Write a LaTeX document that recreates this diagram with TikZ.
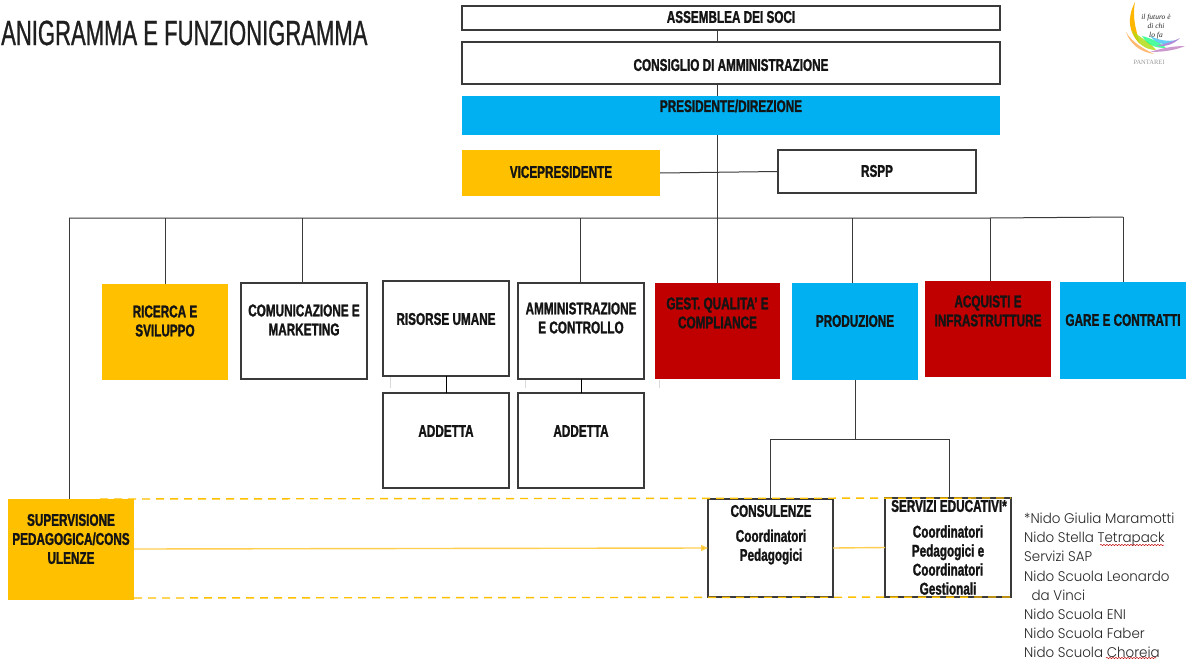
\documentclass[tikz,border=0pt]{standalone}
\usepackage{fontspec}
\setmainfont{Liberation Sans}[FakeStretch=0.69,BoldFeatures={FakeBold=1.4}]
\newfontfamily\listfont{Poppins Light}[FakeStretch=0.96]
\newfontfamily\titlefont{Liberation Sans}[FakeStretch=0.63,FakeBold=0.7]
\newfontfamily\logofont{Liberation Serif}
\usetikzlibrary{arrows.meta,decorations.pathmorphing}
\definecolor{cblue}{HTML}{00B0F0}
\definecolor{cgold}{HTML}{FFC000}
\definecolor{cred}{HTML}{C00000}
\definecolor{cline}{HTML}{3A3A3A}
\definecolor{cpale}{HTML}{FFCF50}
\tikzset{
  x=1pt,y=-1pt,
  boxshape/.style={line width=1.2pt,inner sep=0pt,outer sep=0pt},
  plainbox/.style={boxshape,draw=cline,fill=white},
  bluebox/.style={boxshape,fill=cblue},
  goldbox/.style={boxshape,fill=cgold},
  redbox/.style={boxshape,fill=cred},
  lbl/.style={font=\bfseries\fontsize{17}{19}\selectfont,align=center,text=black!92,inner sep=0pt},
  conn/.style={draw=cline,line width=1pt},
  dashgold/.style={draw=cgold,line width=1.4pt,dash pattern=on 8pt off 6pt},
  paleline/.style={draw=cpale,line width=1.4pt},
  listtext/.style={font=\listfont\fontsize{14}{19.1}\selectfont,align=left,anchor=north west,inner sep=0pt,text=black!85},
  wavy/.style={draw=red!75!black,line width=.5pt,decorate,decoration={snake,amplitude=.6pt,segment length=3pt}},
  tick/.style={draw=black!15,line width=.8pt}
}
\newcommand{\bx}[8]{% name x1 y1 x2 y2 style ytext text
  \node[#6,minimum width={(#4)*1pt-(#2)*1pt},minimum height={(#5)*1pt-(#3)*1pt},anchor=north west] (#1) at (#2,#3) {};
  \node[lbl] (#1-t) at ({(#2+#4)/2},#7) {#8};
}
\begin{document}
\begin{tikzpicture}
\useasboundingbox (0,0) rectangle (1188,661);
\fill[white] (0,0) rectangle (1188,661);
% junctions
\coordinate (busL) at (69,218);
\coordinate (busR) at (1123,217);
\coordinate (trunk) at (717,218);
\coordinate (d165) at (165,218);
\coordinate (d302) at (302,218);
\coordinate (d580) at (580,218);
\coordinate (d852) at (852,218);
\coordinate (d990) at (990,218);
\coordinate (prodJ) at (855,439);
\coordinate (prodL) at (770,439);
\coordinate (prodR) at (949,439);
% connectors behind boxes
\draw[conn] (busL) -- (d165) -- (d302) -- (d580) -- (trunk) -- (d852) -- (d990) -- (busR);
% boxes
\bx{soci}{462}{6}{1000}{30}{plainbox}{17}{ASSEMBLEA DEI SOCI}
\bx{cda}{462}{42}{1000}{84}{plainbox}{65}{CONSIGLIO DI AMMINISTRAZIONE}
\bx{pres}{462}{96}{1000}{135}{bluebox}{106}{PRESIDENTE/DIREZIONE}
\bx{vice}{462}{150}{660}{196}{goldbox}{172}{VICEPRESIDENTE}
\bx{rspp}{778}{150}{976}{193}{plainbox}{171}{RSPP}
\bx{ricerca}{102}{284}{228}{380}{goldbox}{321}{RICERCA E\\SVILUPPO}
\bx{comm}{241}{283}{367}{379}{plainbox}{320}{COMUNICAZIONE E\\MARKETING}
\bx{ru}{383}{281}{509}{376}{plainbox}{319}{RISORSE UMANE}
\bx{amm}{518}{283}{644}{379}{plainbox}{318}{AMMINISTRAZIONE\\E CONTROLLO}
\bx{add1}{383}{393}{509}{488}{plainbox}{431}{ADDETTA}
\bx{add2}{518}{393}{644}{488}{plainbox}{431}{ADDETTA}
\bx{gest}{655}{283}{780}{379}{redbox}{313}{GEST. QUALITA' E\\COMPLIANCE}
\bx{prod}{792}{283}{918}{380}{bluebox}{321}{PRODUZIONE}
\bx{acq}{925}{281}{1051}{377}{redbox}{311}{ACQUISTI E\\INFRASTRUTTURE}
\bx{gare}{1060}{282}{1186}{379}{bluebox}{320}{GARE E CONTRATTI}
\bx{sup}{8}{499}{134}{600}{goldbox}{539}{SUPERVISIONE\\PEDAGOGICA/CONS\\ULENZE}
\bx{cons}{708}{499}{833}{597}{plainbox}{531}{}
\bx{serv}{885}{498}{1011}{597}{plainbox}{548}{}
\node[lbl] (cons-a) at (771,511) {CONSULENZE};
\node[lbl] (cons-b) at (771,547) {Coordinatori\\Pedagogici};
\node[lbl] (serv-a) at (949,506) {SERVIZI EDUCATIVI*};
\node[lbl] (serv-b) at (948,560) {Coordinatori\\Pedagogici e\\Coordinatori\\Gestionali};
% tree connectors
\draw[conn] (soci.south -| trunk) -- (cda.north -| trunk);
\draw[conn] (cda.south -| trunk) -- (pres.north -| trunk);
\draw[conn] (pres.south -| trunk) -- (trunk);
\draw[conn] (trunk) -- (gest.north -| trunk);
\draw[conn] (vice.east) -- (rspp.west);
\draw[conn] (busL) -- (busL |- sup.north);
\draw[conn] (d165) -- (d165 |- ricerca.north);
\draw[conn] (d302) -- (d302 |- comm.north);
\draw[conn] (d580) -- (d580 |- amm.north);
\draw[conn] (d852) -- (d852 |- prod.north);
\draw[conn] (d990) -- (d990 |- acq.north);
\draw[conn] (busR) -- (busR |- gare.north);
\draw[conn,black] (ru.south) -- (add1.north);
\draw[conn,black] (amm.south) -- (add2.north);
\draw[conn] (prodJ |- prod.south) -- (prodJ);
\draw[conn] (prodL) -- (prodR);
\draw[conn] (prodL) -- (prodL |- cons.north);
\draw[conn] (prodR) -- (prodR |- serv.north);
% gold connectors
\coordinate (dashTL) at (100,499);
\draw[dashgold] (dashTL) -- (serv.north east);
\draw[dashgold] (sup.south east |- 0,598) -- (serv.south east);
\draw[paleline,-{Triangle[length=7pt,width=6pt,fill=cgold]}] (134,549) -- (cons.west);
\draw[paleline] (cons.east) -- (serv.west);
% faint ticks
\draw[tick] (390,377) -- (390,388);
\draw[tick] (525,380) -- (525,388);
\draw[tick] (659,380) -- (659,388);
% title
\node[font=\titlefont\fontsize{35}{38}\selectfont,anchor=west,inner sep=0pt,text=black!88] (title) at (1,33) {ANIGRAMMA E FUNZIONIGRAMMA};
% list
\node[listtext] (list) at (1024,513) {*Nido Giulia Maramotti\\Nido Stella Tetrapack\\Servizi SAP\\Nido Scuola Leonardo\\\ \ da Vinci\\Nido Scuola ENI\\Nido Scuola Faber\\Nido Scuola Choreia};
\draw[wavy] (1100,545) -- (1164,545);
\draw[wavy] (1106,658) -- (1156,658);
% logo
\fill[cgold!85!orange] (1135,2) .. controls (1127,18) and (1128,32) .. (1140,44) .. controls (1136,30) and (1132,18) .. (1135,2);
\fill[orange!55] (1126,32) .. controls (1130,44) and (1140,52) .. (1154,54) .. controls (1142,48) and (1132,42) .. (1126,32);
\fill[yellow!70!green,opacity=.85] (1132,30) .. controls (1136,44) and (1146,50) .. (1156,50) .. controls (1150,42) and (1140,38) .. (1132,30);
\fill[green!55!cyan,opacity=.7] (1142,36) .. controls (1148,46) and (1156,48) .. (1166,48) .. controls (1160,42) and (1150,38) .. (1142,36);
\fill[cyan!70,opacity=.85] (1150,36) .. controls (1158,46) and (1168,46) .. (1177,40) .. controls (1168,42) and (1158,40) .. (1150,36);
\fill[violet!40] (1150,52) .. controls (1164,52) and (1176,50) .. (1185,46) .. controls (1174,46) and (1162,48) .. (1150,52);
\fill[blue!35!violet!45] (1156,46) .. controls (1166,47) and (1174,44) .. (1180,38) .. controls (1172,42) and (1164,44) .. (1156,46);
\node[font=\logofont\itshape\fontsize{7.5}{9}\selectfont,align=center,inner sep=0pt,text=black!85] (motto) at (1156,27) {il futuro è\\di chi\\lo fa};
\node[font=\logofont\fontsize{6.5}{7}\selectfont,inner sep=0pt,text=black!40] (pantarei) at (1149,62) {PANTAREI};
\end{tikzpicture}
\end{document}
